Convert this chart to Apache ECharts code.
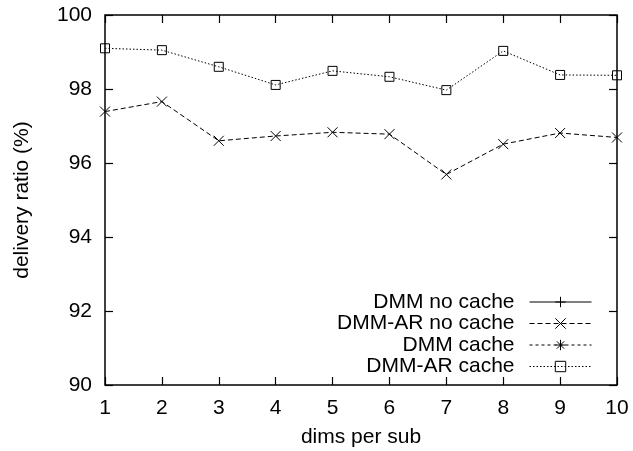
<!DOCTYPE html>
<html>
<head>
<meta charset="utf-8">
<script src="https://cdn.jsdelivr.net/npm/echarts@6/dist/echarts.min.js"></script>
<style>
  html, body { margin: 0; padding: 0; background: #fff; }
  #chart { width: 633px; height: 451px; }
</style>
</head>
<body>
<div id="chart"></div>
<script>
const dims = [1, 2, 3, 4, 5, 6, 7, 8, 9, 10];
const dmmNoCache = [];
const dmmArNoCache = [97.39, 97.66, 96.6, 96.73, 96.83, 96.78, 95.69, 96.51, 96.81, 96.69];
const dmmCache = [];
const dmmArCache = [99.1, 99.05, 98.6, 98.11, 98.49, 98.33, 97.97, 99.03, 98.38, 98.37];
const seriesNames = ["DMM no cache", "DMM-AR no cache", "DMM cache", "DMM-AR cache"];
const legendCenters = [302, 323.5, 345, 366.5];

const font = "Liberation Sans, Arial, Helvetica, sans-serif";

const plusPath = "path://M5,0 L5,10 M0,5 L10,5";
const crossPath = "path://M0,0 L10,10 M10,0 L0,10";
const starPath = "path://M5,0 L5,10 M0,5 L10,5 M1.5,1.5 L8.5,8.5 M8.5,1.5 L1.5,8.5";
const squarePath = "path://M0,0 L10,0 L10,10 L0,10 Z";

const toPairs = (ys) => ys.map((y, i) => [dims[i], y]);

const makeSeries = (name, ys, symbol, size, lineType) => ({
  name,
  type: "line",
  data: toPairs(ys),
  symbol,
  symbolSize: size,
  animation: false,
  lineStyle: { color: "#000", width: 1, type: lineType },
  itemStyle: { color: "none", borderColor: "#000", borderWidth: 1 },
});

const chart = echarts.init(document.getElementById("chart"));

const tick = { inside: true, length: 8, lineStyle: { color: "#000", width: 1.2 } };
const hidden = {
  axisLabel: { show: false },
  axisLine: { show: false },
  splitLine: { show: false },
};

chart.setOption({
  textStyle: { fontFamily: font },
  grid: {
    left: 105,
    right: 16,
    top: 15,
    bottom: 66,
    outerBoundsMode: "none",
    show: true,
    borderColor: "#000",
    borderWidth: 1.5,
  },
  legend: seriesNames.map((name, i) => ({
    data: [name],
    right: 41,
    top: legendCenters[i] - 10.5,
    padding: 0,
    orient: "vertical",
    align: "right",
    itemWidth: 62,
    itemHeight: 13,
    selectedMode: false,
    lineStyle: { width: 1 },
    itemStyle: { borderWidth: 1 },
    textStyle: {
      fontFamily: font,
      fontSize: 21,
      color: "#000",
      lineHeight: 21,
      padding: [0, 10, 0, 0],
    },
  })),
  xAxis: [
    {
      type: "value",
      min: 1,
      max: 10,
      interval: 1,
      name: "dims per sub",
      nameLocation: "middle",
      nameGap: 42,
      nameTextStyle: { fontFamily: font, fontSize: 21, color: "#000" },
      axisLine: { show: false },
      axisTick: tick,
      axisLabel: { fontFamily: font, fontSize: 21, color: "#000", margin: 13 },
      splitLine: { show: false },
    },
    {
      type: "value",
      position: "top",
      min: 1,
      max: 10,
      interval: 1,
      axisTick: tick,
      ...hidden,
    },
  ],
  yAxis: [
    {
      type: "value",
      min: 90,
      max: 100,
      interval: 2,
      name: "delivery ratio (%)",
      nameLocation: "middle",
      nameGap: 72,
      nameTextStyle: { fontFamily: font, fontSize: 21, color: "#000" },
      axisLine: { show: false },
      axisTick: tick,
      axisLabel: { fontFamily: font, fontSize: 21, color: "#000", margin: 13 },
      splitLine: { show: false },
    },
    {
      type: "value",
      position: "right",
      min: 90,
      max: 100,
      interval: 2,
      axisTick: tick,
      ...hidden,
    },
  ],
  series: [
    makeSeries(seriesNames[0], dmmNoCache, plusPath, 9, "solid"),
    makeSeries(seriesNames[1], dmmArNoCache, crossPath, 10, [5, 3]),
    makeSeries(seriesNames[2], dmmCache, starPath, 9, [3, 3]),
    makeSeries(seriesNames[3], dmmArCache, squarePath, 9, [1.5, 2]),
  ],
});
</script>
</body>
</html>
